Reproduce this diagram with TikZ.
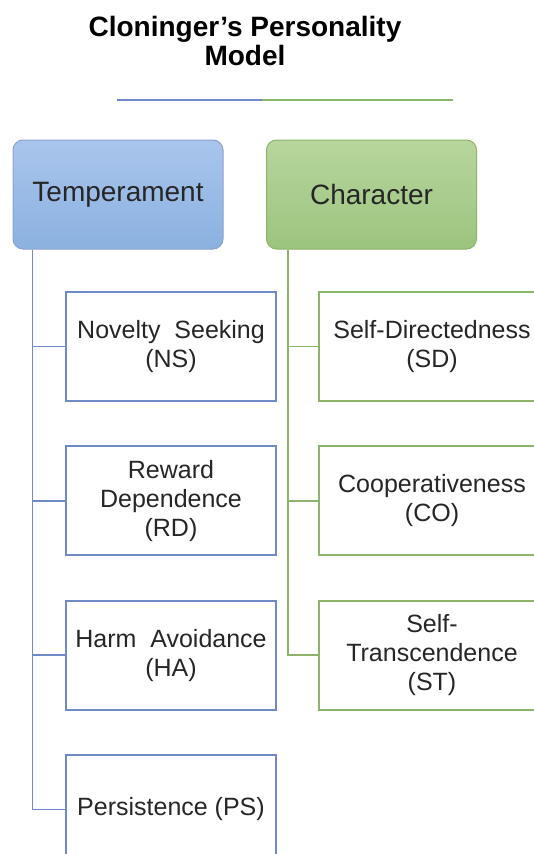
\documentclass[tikz,border=0pt]{standalone}
\usepackage{fontspec}
\setmainfont{Liberation Sans}
\usetikzlibrary{positioning}
\usetikzlibrary{calc}

\definecolor{tline}{HTML}{6F8AC6}
\definecolor{cline}{HTML}{8DB46A}
\definecolor{ttop}{HTML}{A9C5EC}
\definecolor{tbot}{HTML}{8BB1E0}
\definecolor{ctop}{HTML}{B7D69E}
\definecolor{cbot}{HTML}{9BC47E}

\begin{document}
\begin{tikzpicture}[x=1pt, y=1pt,
  head/.style={rounded corners=10pt, line width=1pt, minimum width=210pt, minimum height=109pt,
    inner sep=0pt, font=\fontsize{28}{29}\selectfont, text=black!85},
  tchild/.style={draw=tline, line width=1.8pt, minimum width=210pt, minimum height=109pt,
    inner sep=0pt, align=center, font=\fontsize{25}{29}\selectfont, text=black!85},
  cchild/.style={tchild, draw=cline, minimum width=226pt},
  tbranch/.style={draw=tline, line width=1.8pt},
  cbranch/.style={draw=cline, line width=1.8pt}]
  \useasboundingbox (0,0) rectangle (533,-854);

  % title and rule
  \node[font=\bfseries\fontsize{28}{29}\selectfont, align=center] (title) at (245,-41) {Cloninger’s Personality\\Model};
  \coordinate (ra) at (117,-100);
  \coordinate (rm) at (262,-100);
  \coordinate (rb) at (453,-100);
  \draw[tbranch] (ra) -- (rm);
  \draw[cbranch] (rm) -- (rb);

  % the two heads
  \node[head, draw=tline!80, top color=ttop, bottom color=tbot] (temp) at (118,-194.5) {Temperament};
  \node[head, draw=cline, top color=ctop, bottom color=cbot] (char) at (371.5,-194.5) {Character};

  % temperament column
  \node[tchild] (ns) at (171,-346.5) {Novelty~~Seeking\\(NS)};
  \node[tchild, below=43.5pt of ns] (rd) {Reward\\Dependence\\(RD)};
  \node[tchild, below=43.5pt of rd] (ha) {Harm~~Avoidance\\(HA)};
  \node[tchild, below=43.5pt of ha] (ps) {Persistence (PS)};

  % character column (runs past the right edge)
  \node[cchild] (sd) at (432,-346.5) {Self-Directedness\\(SD)};
  \node[cchild, below=43.5pt of sd] (co) {Cooperativeness\\(CO)};
  \node[cchild, below=43.5pt of co] (st) {Self-\\Transcendence\\(ST)};

  % trunks and branches
  \coordinate (tl) at ($(temp.south west)+(20,0)$);
  \coordinate (cl) at ($(char.south west)+(22,0)$);
  \foreach \n in {ns,rd,ha,ps}
    \draw[tbranch] (tl) |- (\n.west);
  \foreach \n in {sd,co,st}
    \draw[cbranch] (cl) |- (\n.west);
\end{tikzpicture}
\end{document}
